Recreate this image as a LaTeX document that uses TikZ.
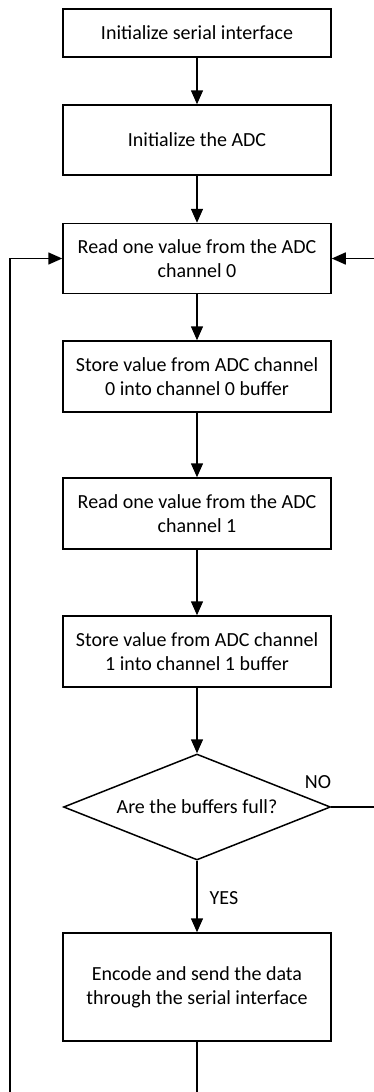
\documentclass[tikz,border=0pt]{standalone}
\usepackage{fontspec}
\setmainfont{Carlito}
\usetikzlibrary{shapes.geometric,arrows.meta}
\begin{document}
\begin{tikzpicture}[x=1pt,y=-1pt,
  every node/.style={font=\fontsize{20}{24}\selectfont},
  procbox/.style={draw,line width=1.5pt,minimum width=268pt,inner sep=0pt,align=center},
  decbox/.style={draw,line width=1.5pt,diamond,minimum width=267pt,minimum height=106pt,inner sep=0pt,shape aspect=2.5},
  flow/.style={line width=1.5pt,-{Triangle[width=12pt,length=14pt]}},
  plain/.style={line width=1.5pt}]
\useasboundingbox (0,0) rectangle (374,1092);
\clip (0,0) rectangle (374,1092);
\node[procbox,minimum height=48pt] (b1) at (197,33) {Initialize serial interface};
\node[procbox,minimum height=70pt] (b2) at (197,140) {Initialize the ADC};
\node[procbox,minimum height=70pt] (b3) at (197,258.5) {Read one value from the ADC\\channel 0};
\node[procbox,minimum height=71pt] (b4) at (197,376.5) {Store value from ADC channel\\0 into channel 0 buffer};
\node[procbox,minimum height=71pt] (b5) at (197,513.5) {Read one value from the ADC\\channel 1};
\node[procbox,minimum height=71pt] (b6) at (197,651.5) {Store value from ADC channel\\1 into channel 1 buffer};
\node[decbox] (d) at (197,807) {Are the buffers full?};
\node[procbox,minimum height=108pt] (b7) at (197,987) {Encode and send the data\\through the serial interface};
\node (no) at (318,782) {NO};
\node (yes) at (224,898) {YES};
\coordinate (bl) at (197,1100);
\coordinate (bll) at (10,1100);
\coordinate (lu) at (10,258.5);
\coordinate (rr) at (385,807);
\coordinate (ru) at (385,258.5);
\draw[flow] (b1) -- (b2);
\draw[flow] (b2) -- (b3);
\draw[flow] (b3) -- (b4);
\draw[flow] (b4) -- (b5);
\draw[flow] (b5) -- (b6);
\draw[flow] (b6) -- (d);
\draw[flow] (d) -- (b7);
\draw[flow] (b7.south) -- (bl) -- (bll) -- (lu) -- (b3.west);
\draw[flow] (d.east) -- (rr) -- (ru) -- (b3.east);
\end{tikzpicture}
\end{document}
